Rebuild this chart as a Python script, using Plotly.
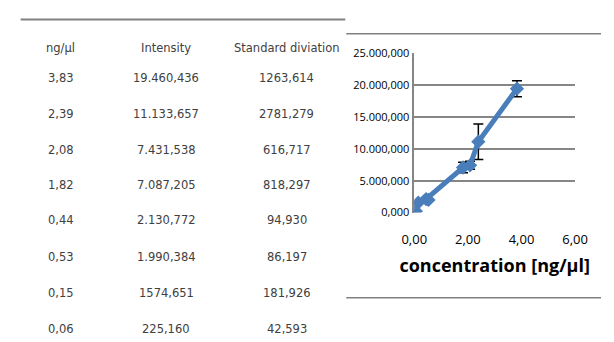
import plotly.graph_objects as go

conc = [3.83, 2.39, 2.08, 1.82, 0.44, 0.53, 0.15, 0.06]
intensity = [19460.436, 11133.657, 7431.538, 7087.205, 2130.772, 1990.384, 1574.651, 225.160]
std_dev = [1263.614, 2781.279, 616.717, 818.297, 94.930, 86.197, 181.926, 42.593]

conc_txt = ["3,83", "2,39", "2,08", "1,82", "0,44", "0,53", "0,15", "0,06"]
int_txt = ["19.460,436", "11.133,657", "7.431,538", "7.087,205", "2.130,772", "1.990,384", "1574,651", "225,160"]
std_txt = ["1263,614", "2781,279", "616,717", "818,297", "94,930", "86,197", "181,926", "42,593"]
headers = ["ng/µl", "Intensity", "Standard diviation"]

W, H = 614, 342

def px(x):
    return x / W

def py(y):
    return 1 - y / H

fig = go.Figure()
fig.add_trace(go.Scatter(
    x=conc, y=intensity, mode="lines+markers",
    line=dict(color="#4A7EBB", width=5),
    marker=dict(symbol="diamond", size=11, color="#4A7EBB"),
    error_y=dict(type="data", array=std_dev, visible=True, color="black", thickness=1.5, width=5),
    showlegend=False,
))

# table annotations
col_x = [50, 160, 286]
row_y = [73, 111, 149, 185, 222, 260, 298, 336]
ann = []
tfont = dict(family="DejaVu Sans, sans-serif", size=11.5, color="#404040")
for cx, h in zip(col_x, headers):
    ann.append(dict(x=px(cx), y=py(42), xref="paper", yref="paper", text=h, showarrow=False,
                    xanchor="center", yanchor="middle", font=tfont))
for i, ry in enumerate(row_y):
    for cx, t in zip(col_x, [conc_txt[i], int_txt[i], std_txt[i]]):
        ann.append(dict(x=px(cx), y=py(ry), xref="paper", yref="paper", text=t, showarrow=False,
                        xanchor="center", yanchor="middle", font=tfont))

shapes = [
    dict(type="line", xref="paper", yref="paper", x0=px(8), x1=px(347), y0=py(12), y1=py(12),
         line=dict(color="#808080", width=2)),
    dict(type="line", xref="paper", yref="paper", x0=px(348), x1=1, y0=py(27), y1=py(27),
         line=dict(color="#808080", width=1.5)),
    dict(type="line", xref="paper", yref="paper", x0=px(348), x1=1, y0=py(303), y1=py(303),
         line=dict(color="#808080", width=1.5)),
]

fig.update_layout(
    width=W, height=H, margin=dict(l=0, r=0, t=0, b=0),
    paper_bgcolor="white", plot_bgcolor="white",
    separators=",.",
    annotations=ann, shapes=shapes,
    xaxis=dict(domain=[px(419), px(587)], range=[0, 6], tickvals=[0, 2, 4, 6], tickformat=".2f",
               showgrid=False, zeroline=False, showline=False, ticks="", ticklabelstandoff=17,
               tickfont=dict(family="Open Sans, sans-serif", size=13, color="black"),
               title=dict(text="concentration [ng/µl]", standoff=12,
                          font=dict(family="Open Sans, sans-serif", size=18, color="black", weight="bold"))),
    yaxis=dict(domain=[py(214), py(47.5)], range=[0, 25000], tickvals=[0, 5000, 10000, 15000, 20000, 25000],
               tickformat=",.3f", showgrid=True, gridcolor="#868686", gridwidth=1.5, zeroline=False,
               showline=True, linecolor="#868686", linewidth=1.5, ticks="", ticklabelstandoff=1,
               tickfont=dict(family="Open Sans, sans-serif", size=11, color="black")),
)

fig.write_html("out.html")
